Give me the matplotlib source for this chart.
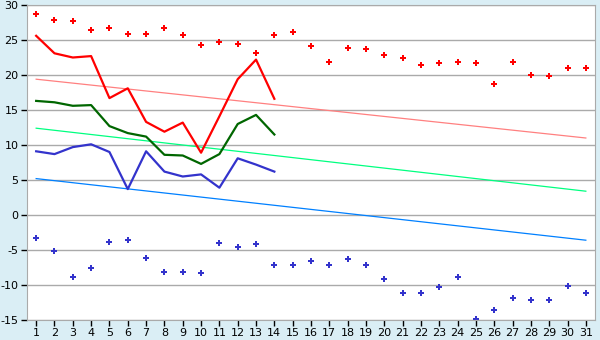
import numpy as np
import matplotlib
matplotlib.use('Agg')
import matplotlib.pyplot as plt

plt.rcParams['axes.unicode_minus'] = False

# 날짜 (1~31일)
days = np.arange(1, 32)

# 최고 기록 (빨간 점)
record_high = [28.7, 27.9, 27.7, 26.4, 26.7, 25.9, 25.9, 26.7, 25.7, 24.3,
               24.7, 24.4, 23.1, 25.7, 26.2, 24.2, 21.8, 23.8, 23.7, 22.8,
               22.4, 21.5, 21.7, 21.9, 21.7, 18.7, 21.9, 20.0, 19.8, 21.0, 21.0]
# 최저 기록 (파란 점)
record_low = [-3.3, -5.2, -8.9, -7.5, -3.8, -3.6, -6.1, -8.1, -8.1, -8.3,
              -4.0, -4.6, -4.1, -7.2, -7.2, -6.6, -7.1, -6.3, -7.1, -9.1,
              -11.1, -11.1, -10.3, -8.8, -14.8, -13.6, -11.9, -12.1, -12.2, -10.1, -11.2]

# 이번 달 관측값 (1~14일)
obs_days = np.arange(1, 15)
obs_max = [25.6, 23.1, 22.5, 22.7, 16.7, 18.1, 13.3, 11.9, 13.2, 8.9, 14.1, 19.4, 22.2, 16.6]
obs_mean = [16.3, 16.1, 15.6, 15.7, 12.7, 11.7, 11.2, 8.6, 8.5, 7.3, 8.7, 13.0, 14.3, 11.5]
obs_min = [9.1, 8.7, 9.7, 10.1, 9.0, 3.7, 9.1, 6.2, 5.5, 5.8, 3.9, 8.1, 7.2, 6.2]

# 평년값 (1일, 31일 양 끝값) - 직선
normal_ends = [1, 31]
normal_max = [19.4, 11.0]
normal_mean = [12.4, 3.4]
normal_min = [5.2, -3.6]

bg = '#daeef5'
fig = plt.figure(figsize=(6, 3.4), dpi=100, facecolor=bg)
ax = fig.add_axes([27 / 600, 20 / 340, 568 / 600, 315 / 340])
ax.set_facecolor('white')

# 평년선
ax.plot(normal_ends, normal_max, color='#ff8080', lw=0.9)
ax.plot(normal_ends, normal_mean, color='#00ff80', lw=0.9)
ax.plot(normal_ends, normal_min, color='#0080ff', lw=0.9)

# 관측선
ax.plot(obs_days, obs_max, color='#ff0000', lw=1.6)
ax.plot(obs_days, obs_mean, color='#006600', lw=1.6)
ax.plot(obs_days, obs_min, color='#3333cc', lw=1.6)

# 기록 점
ax.plot(days, record_high, 'P', color='#ff0000', ms=5, mew=0)
ax.plot(days, record_low, 'P', color='#3333cc', ms=5, mew=0)

ax.set_xlim(0.5, 31.5)
ax.set_ylim(-15, 30)
ax.set_xticks(days)
ax.set_yticks(np.arange(-15, 31, 5))
ax.grid(axis='y', color='#aaaaaa', lw=1)
ax.set_axisbelow(True)
for s in ax.spines.values():
    s.set_color('#aaaaaa')
ax.tick_params(colors='black', labelsize=8, length=4, width=1, pad=2)

fig.savefig('out.png', dpi=100, facecolor=bg)
